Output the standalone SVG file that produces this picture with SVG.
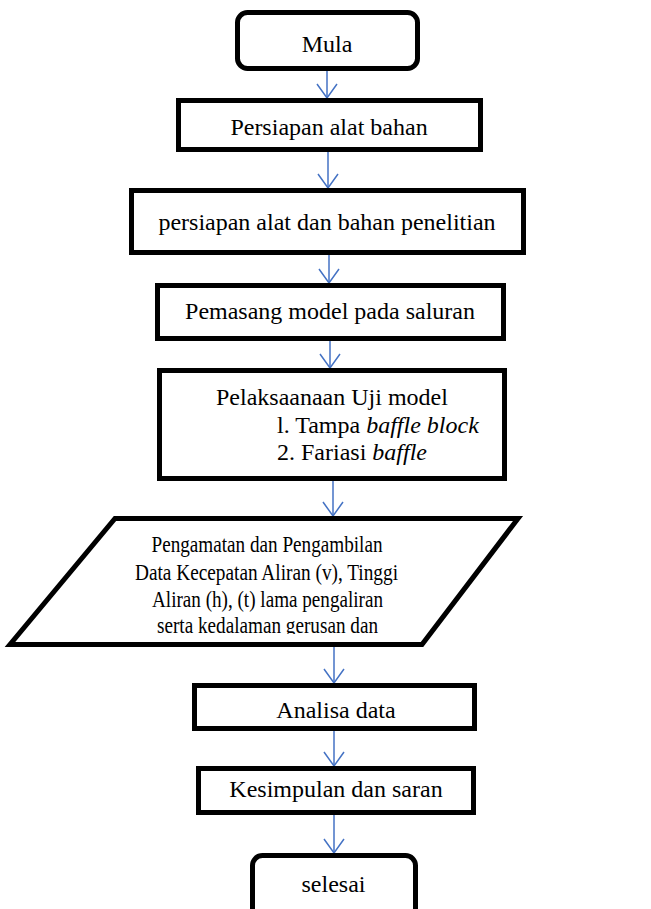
<svg xmlns="http://www.w3.org/2000/svg" width="651" height="909" viewBox="0 0 651 909">
<style>
.box{fill:#fff;stroke:#000;stroke-width:5}
.t{font-family:"Liberation Serif","Times New Roman",serif;font-size:24px;fill:#000}
.c{text-anchor:middle}
.con{stroke:#4472C4;stroke-width:1.5;fill:none}
</style>
<defs>
<marker id="ah" viewBox="-16 -12 18 24" refX="0" refY="0" markerWidth="18" markerHeight="24" markerUnits="userSpaceOnUse" orient="auto">
<path d="M-14,-10 L0,0 L-14,10" fill="none" stroke="#4472C4" stroke-width="1.5"/>
</marker>
<clipPath id="pc"><rect x="0" y="520" width="651" height="114"/></clipPath>
</defs>
<rect width="651" height="909" fill="#fff"/>
<g id="connectors" class="con">
<line x1="327" y1="71" x2="327" y2="98" marker-end="url(#ah)"/>
<line x1="328" y1="152" x2="328" y2="188" marker-end="url(#ah)"/>
<line x1="329" y1="255" x2="329" y2="283" marker-end="url(#ah)"/>
<line x1="330" y1="341" x2="330" y2="368" marker-end="url(#ah)"/>
<line x1="333" y1="481" x2="333" y2="516" marker-end="url(#ah)"/>
<line x1="334" y1="647" x2="334" y2="683" marker-end="url(#ah)"/>
<line x1="334" y1="731" x2="334" y2="766" marker-end="url(#ah)"/>
<line x1="334" y1="815" x2="334" y2="853" marker-end="url(#ah)"/>
</g>
<g id="mula">
<rect class="box" x="237.5" y="12.5" width="180" height="56" rx="10"/>
<text class="t c" x="327" y="52">Mula</text>
</g>
<g id="persiapan1">
<rect class="box" x="178.5" y="100.5" width="302" height="49"/>
<text class="t c" x="329" y="135">Persiapan alat bahan</text>
</g>
<g id="persiapan2">
<rect class="box" x="131.5" y="190.5" width="392" height="62"/>
<text class="t c" x="327" y="230">persiapan alat dan bahan penelitian</text>
</g>
<g id="pemasang">
<rect class="box" x="157.5" y="285.5" width="346" height="53"/>
<text class="t c" x="330" y="319">Pemasang model pada saluran</text>
</g>
<g id="pelaksanaan">
<rect class="box" x="159.5" y="370.5" width="345" height="108"/>
<text class="t" x="216" y="405">Pelaksaanaan Uji model</text>
<text class="t" x="277" y="433">l. Tampa <tspan font-style="italic">baffle block</tspan></text>
<text class="t" x="277" y="460">2. Fariasi <tspan font-style="italic">baffle</tspan></text>
</g>
<g id="pengamatan">
<polygon class="box" points="115,518.5 518,518.5 422,644.5 10,644.5"/>
<g clip-path="url(#pc)">
<text class="t c" x="267" y="552" textLength="231" lengthAdjust="spacingAndGlyphs">Pengamatan dan Pengambilan</text>
<text class="t c" x="266.5" y="580" textLength="263" lengthAdjust="spacingAndGlyphs">Data Kecepatan Aliran (v), Tinggi</text>
<text class="t c" x="267.5" y="607" textLength="231" lengthAdjust="spacingAndGlyphs">Aliran (h), (t) lama pengaliran</text>
<text class="t c" x="267.5" y="633" textLength="221" lengthAdjust="spacingAndGlyphs">serta kedalaman gerusan dan</text>
</g>
</g>
<g id="analisa">
<rect class="box" x="194.5" y="685.5" width="280" height="43"/>
<text class="t c" x="336" y="718">Analisa data</text>
</g>
<g id="kesimpulan">
<rect class="box" x="198.5" y="768.5" width="275" height="44"/>
<text class="t c" x="336" y="797">Kesimpulan dan saran</text>
</g>
<g id="selesai">
<rect class="box" x="252.5" y="855.5" width="163" height="70" rx="10"/>
<text class="t c" x="333.5" y="892">selesai</text>
</g>
</svg>
